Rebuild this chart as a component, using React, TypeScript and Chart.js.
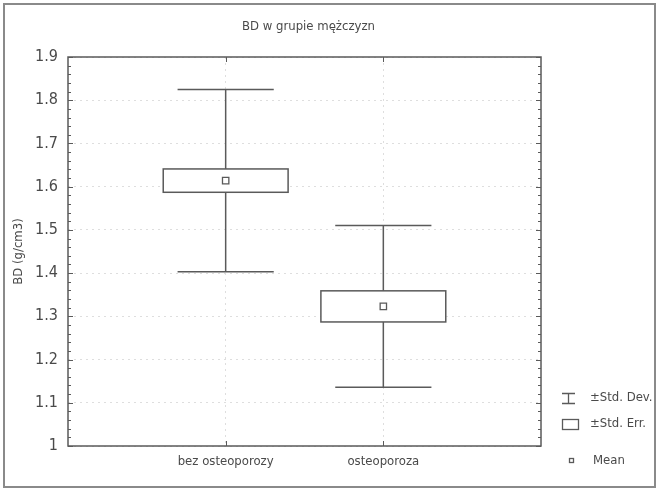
import React, { useEffect, useRef } from "react";
import { Chart, registerables } from "chart.js";

Chart.register(...registerables);

const title = "BD w grupie mężczyzn";
const yTitle = "BD (g/cm3)";
const categories = ["bez osteoporozy", "osteoporoza"];
const means = [1.614, 1.323];
const stdErr = [0.027, 0.036];
const stdDev = [0.211, 0.187];
const yMin = 1;
const yMax = 1.9;
const yStep = 0.1;
const legendLabels = ["±Std. Dev.", "±Std. Err.", "Mean"];

const FONT = "'Liberation Sans Narrow', 'DejaVu Sans Condensed', 'Arial Narrow', sans-serif";
const TEXT = "#4a4a4a";
const LINE = "#5a5a5a";
const GRID = "#dedede";
const BOX_HALF = 0.396;
const CAP_HALF = 0.305;

const decorPlugin = {
  id: "decor",
  beforeDatasetsDraw(chart: any) {
    const { ctx, scales } = chart;
    const x = scales.x;
    const y = scales.y;
    ctx.save();
    ctx.strokeStyle = LINE;
    ctx.lineWidth = 1.5;
    categories.forEach((_, i) => {
      const xv = i + 1;
      const xc = x.getPixelForValue(xv);
      const bL = x.getPixelForValue(xv - BOX_HALF);
      const bR = x.getPixelForValue(xv + BOX_HALF);
      const cL = x.getPixelForValue(xv - CAP_HALF);
      const cR = x.getPixelForValue(xv + CAP_HALF);
      const sdT = y.getPixelForValue(means[i] + stdDev[i]);
      const sdB = y.getPixelForValue(means[i] - stdDev[i]);
      const seT = y.getPixelForValue(means[i] + stdErr[i]);
      const seB = y.getPixelForValue(means[i] - stdErr[i]);
      ctx.beginPath();
      ctx.moveTo(xc, sdT);
      ctx.lineTo(xc, sdB);
      ctx.moveTo(cL, sdT);
      ctx.lineTo(cR, sdT);
      ctx.moveTo(cL, sdB);
      ctx.lineTo(cR, sdB);
      ctx.stroke();
      ctx.fillStyle = "#fff";
      ctx.fillRect(bL, seT, bR - bL, seB - seT);
      ctx.strokeRect(bL, seT, bR - bL, seB - seT);
    });
    ctx.restore();
  },
  afterDraw(chart: any) {
    const { ctx, chartArea: a, scales } = chart;
    const x = scales.x;
    const y = scales.y;
    ctx.save();
    // outer frame
    ctx.strokeStyle = "#8a8a8a";
    ctx.lineWidth = 2;
    ctx.strokeRect(4, 4, chart.width - 7, chart.height - 7);
    // plot frame
    ctx.strokeStyle = LINE;
    ctx.lineWidth = 1.5;
    ctx.strokeRect(a.left, a.top, a.right - a.left, a.bottom - a.top);
    // minor ticks on y (both sides, inward)
    ctx.lineWidth = 1;
    ctx.beginPath();
    const nMinor = Math.round((yMax - yMin) / (yStep / 5));
    for (let k = 0; k <= nMinor; k++) {
      const v = yMin + (k * yStep) / 5;
      const py = Math.round(y.getPixelForValue(v)) + 0.5;
      const len = k % 5 === 0 ? 5 : 3;
      ctx.moveTo(a.left, py);
      ctx.lineTo(a.left + len, py);
      ctx.moveTo(a.right, py);
      ctx.lineTo(a.right - len, py);
    }
    categories.forEach((_, i) => {
      const px = Math.round(x.getPixelForValue(i + 1)) + 0.5;
      ctx.moveTo(px, a.bottom);
      ctx.lineTo(px, a.bottom - 5);
      ctx.moveTo(px, a.top);
      ctx.lineTo(px, a.top + 5);
    });
    ctx.stroke();

    // title
    ctx.fillStyle = TEXT;
    ctx.font = `13px ${FONT}`;
    ctx.textAlign = "center";
    ctx.textBaseline = "middle";
    ctx.fillText(title, (a.left + a.right) / 2 + 4, 27);

    // legend
    const ix = a.right + 21;
    ctx.strokeStyle = LINE;
    ctx.lineWidth = 1.3;
    ctx.beginPath();
    ctx.moveTo(ix, 393.5);
    ctx.lineTo(ix + 13, 393.5);
    ctx.moveTo(ix + 6.5, 393.5);
    ctx.lineTo(ix + 6.5, 403.5);
    ctx.moveTo(ix, 403.5);
    ctx.lineTo(ix + 13, 403.5);
    ctx.stroke();
    ctx.strokeRect(ix + 0.5, 419.5, 16, 10);
    ctx.strokeRect(ix + 7.5, 458.5, 4, 4);
    ctx.font = `13px ${FONT}`;
    ctx.textAlign = "left";
    ctx.fillText(legendLabels[0], ix + 28, 398);
    ctx.fillText(legendLabels[1], ix + 28, 424);
    ctx.fillText(legendLabels[2], ix + 31, 461);
    ctx.restore();
  },
};

export default function App() {
  const ref = useRef<HTMLCanvasElement | null>(null);
  useEffect(() => {
    if (!ref.current) return;
    const chart = new Chart(ref.current, {
      type: "scatter",
      data: {
        datasets: [
          {
            label: "Mean",
            data: means.map((m, i) => ({ x: i + 1, y: m })),
            pointStyle: "rect",
            pointRadius: 4.5,
            pointBorderWidth: 1.3,
            pointBackgroundColor: "#fff",
            pointBorderColor: LINE,
          },
        ],
      },
      options: {
        animation: false,
        responsive: false,
        maintainAspectRatio: false,
        layout: { padding: { top: 57, right: 117, bottom: 0, left: 0 } },
        plugins: {
          legend: { display: false },
          title: { display: false },
          tooltip: { enabled: false },
        },
        scales: {
          x: {
            type: "linear",
            min: 0,
            max: 3,
            afterFit: (s: any) => {
              s.height = 44;
            },
            ticks: {
              stepSize: 1,
              autoSkip: false,
              maxRotation: 0,
              padding: 8,
              color: TEXT,
              font: { family: FONT, size: 13 },
              callback: (v: any) => categories[Number(v) - 1] ?? "",
            },
            grid: {
              drawTicks: false,
              color: (c: any) =>
                c.tick && c.tick.value >= 1 && c.tick.value <= categories.length ? GRID : "rgba(0,0,0,0)",
            },
            border: { display: false, dash: [2, 4] },
          },
          y: {
            type: "linear",
            min: yMin,
            max: yMax,
            afterFit: (s: any) => {
              s.width = 68;
            },
            title: {
              display: true,
              text: yTitle,
              color: TEXT,
              font: { family: FONT, size: 13 },
              padding: { top: 11, bottom: 0 },
            },
            ticks: {
              stepSize: yStep,
              padding: 10,
              color: TEXT,
              font: { family: FONT, size: 16 },
              callback: (v: any) => String(Math.round(Number(v) * 10) / 10),
            },
            grid: { drawTicks: false, color: GRID },
            border: { display: false, dash: [2, 4] },
          },
        },
      },
      plugins: [decorPlugin],
    } as any);
    return () => chart.destroy();
  }, []);
  return (
    <div style={{ position: "fixed", left: 0, top: 0, width: 658, height: 490, background: "#fff" }}>
      <canvas ref={ref} width={658} height={490} style={{ width: 658, height: 490, display: "block" }} />
    </div>
  );
}
